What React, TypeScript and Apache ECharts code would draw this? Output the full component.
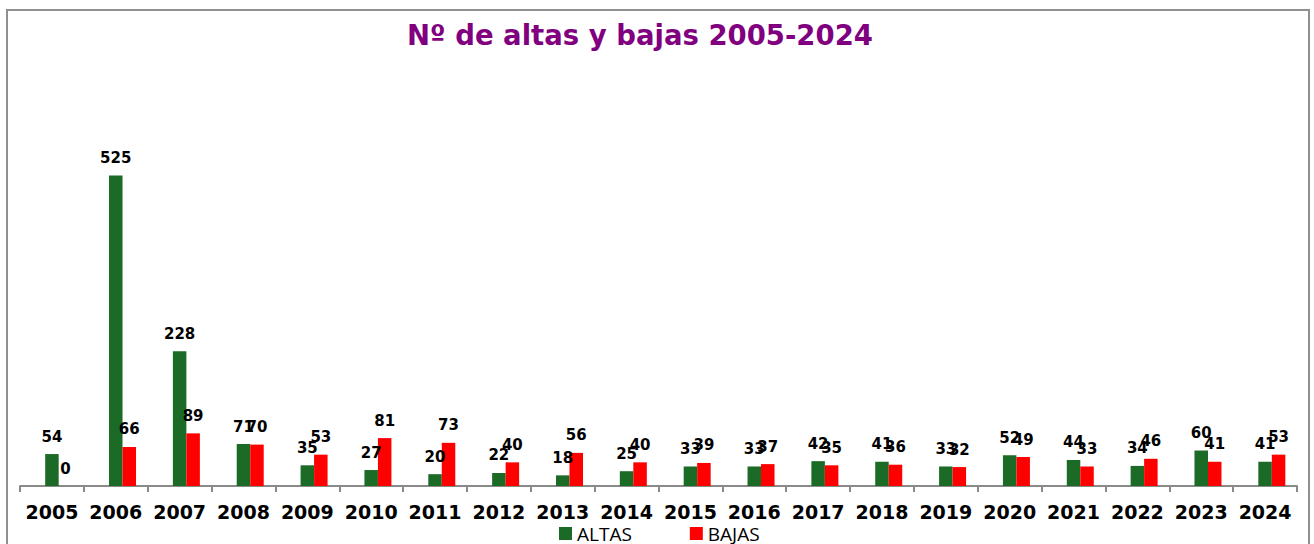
import React, { useEffect, useRef } from "react";
import * as echarts from "echarts";

const years = ["2005","2006","2007","2008","2009","2010","2011","2012","2013","2014","2015","2016","2017","2018","2019","2020","2021","2022","2023","2024"];
const altas = [54, 525, 228, 71, 35, 27, 20, 22, 18, 25, 33, 33, 42, 41, 33, 52, 44, 34, 60, 41];
const bajas = [0, 66, 89, 70, 53, 81, 73, 40, 56, 40, 39, 37, 35, 36, 32, 49, 33, 46, 41, 53];
const spacer = years.map(() => null);

export default function App() {
  const ref = useRef<HTMLDivElement>(null);
  useEffect(() => {
    if (!ref.current) return;
    const chart = echarts.init(ref.current, null, { renderer: "svg" });
    const labelStyle = {
      show: true,
      position: "top" as const,
      distance: 10,
      color: "#000",
      fontFamily: "DejaVu Sans",
      fontWeight: "bold" as const,
      fontSize: 15,
    };
    chart.setOption({
      animation: false,
      backgroundColor: "#fff",
      title: {
        text: "Nº de altas y bajas 2005-2024",
        left: 635,
        top: 16,
        textAlign: "center",
        textStyle: {
          color: "#800080",
          fontFamily: "DejaVu Sans",
          fontWeight: "bold",
          fontSize: 27.5,
        },
      },
      graphic: [
        {
          type: "rect",
          shape: { x: 7, y: 10, width: 1302, height: 600 },
          style: { fill: "none", stroke: "#909090", lineWidth: 2 },
          silent: true,
        },
      ],
      legend: {
        data: ["ALTAS", "BAJAS"],
        left: 554,
        top: 519,
        icon: "rect",
        itemWidth: 13,
        itemHeight: 13,
        itemGap: 58,
        textStyle: { fontFamily: "Open Sans", fontSize: 19, color: "#000", lineHeight: 19 },
      },
      grid: { left: 20, right: 17, top: 72, bottom: 58, containLabel: false },
      xAxis: {
        type: "category",
        data: years,
        axisLine: { lineStyle: { color: "#8a8a8a", width: 2 } },
        axisTick: { show: true, length: 6, lineStyle: { color: "#8a8a8a", width: 2 }, interval: 0 },
        axisLabel: {
          interval: 0,
          margin: 16,
          color: "#000",
          fontFamily: "DejaVu Sans",
          fontWeight: "bold",
          fontSize: 19,
        },
      },
      yAxis: {
        type: "value",
        min: 0,
        max: 700,
        show: false,
        splitLine: { show: false },
      },
      series: [
        { name: "_spacer", type: "bar", data: spacer, barWidth: 13.5, barGap: "0%" },
        {
          name: "ALTAS",
          type: "bar",
          data: altas,
          barWidth: 13.5,
          barGap: "0%",
          itemStyle: { color: "#1B6B26" },
          label: labelStyle,
        },
        {
          name: "BAJAS",
          type: "bar",
          data: bajas,
          barWidth: 13.5,
          barGap: "0%",
          itemStyle: { color: "#FF0000" },
          label: labelStyle,
        },
      ],
    });
    return () => chart.dispose();
  }, []);
  return (
    <div
      ref={ref}
      style={{ position: "absolute", left: 0, top: 0, width: 1314, height: 544 }}
    />
  );
}
